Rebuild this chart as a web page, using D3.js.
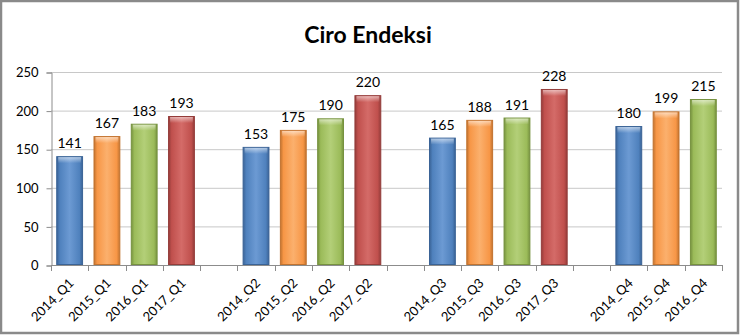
<!DOCTYPE html>
<html>
<head>
<meta charset="utf-8">
<script src="https://cdn.jsdelivr.net/npm/d3@7"></script>
<style>
  body { margin: 0; background: #fff; }
  svg { display: block; font-family: Lato, "Open Sans", sans-serif; }
</style>
</head>
<body>
<svg id="chart"></svg>
<script>
// chart data (empty label = gap between quarter groups)
var categories = ["2014_Q1", "2015_Q1", "2016_Q1", "2017_Q1", "",
                  "2014_Q2", "2015_Q2", "2016_Q2", "2017_Q2", "",
                  "2014_Q3", "2015_Q3", "2016_Q3", "2017_Q3", "",
                  "2014_Q4", "2015_Q4", "2016_Q4"];
var values = [141, 167, 183, 193, null,
              153, 175, 190, 220, null,
              165, 188, 191, 228, null,
              180, 199, 215];
var years = ["2014", "2015", "2016", "2017"];
var yTicks = [0, 50, 100, 150, 200, 250];

var width = 740, height = 335;
var margin = { top: 72, left: 51, bottom: 70, right: 18 };

var svg = d3.select("#chart")
            .attr("width", width)
            .attr("height", height);

// colours: base, dark edge, light centre
var palette = {
    "2014": ["#4f81bd", "#3a6396", "#6c9ad3"],
    "2015": ["#f79646", "#c2732f", "#fbb06d"],
    "2016": ["#9bbb59", "#76923f", "#b3cf78"],
    "2017": ["#c0504d", "#943c3a", "#d46b68"]
};

var defs = svg.append("defs");
years.forEach(function (yr) {
    var c = palette[yr];
    var g = defs.append("linearGradient")
                .attr("id", "grad" + yr)
                .attr("x1", 0).attr("x2", 1).attr("y1", 0).attr("y2", 0);
    g.append("stop").attr("offset", "0%").attr("stop-color", c[1]);
    g.append("stop").attr("offset", "12%").attr("stop-color", c[0]);
    g.append("stop").attr("offset", "50%").attr("stop-color", c[2]);
    g.append("stop").attr("offset", "88%").attr("stop-color", c[0]);
    g.append("stop").attr("offset", "100%").attr("stop-color", c[1]);

    var t = defs.append("linearGradient")
                .attr("id", "top" + yr)
                .attr("x1", 0).attr("x2", 0).attr("y1", 0).attr("y2", 1);
    t.append("stop").attr("offset", "0%").attr("stop-color", "#fff").attr("stop-opacity", 0.55);
    t.append("stop").attr("offset", "100%").attr("stop-color", "#fff").attr("stop-opacity", 0);
});

// outer frame
svg.append("rect")
   .attr("x", 1).attr("y", 1)
   .attr("width", width - 3).attr("height", height - 3)
   .attr("fill", "#fff")
   .attr("stroke", "#8a8a8a")
   .attr("stroke-width", 2.5);

svg.append("text")
   .attr("x", 368).attr("y", 43)
   .attr("text-anchor", "middle")
   .attr("font-size", 23)
   .attr("font-weight", "bold")
   .attr("fill", "#000")
   .text("Ciro Endeksi");

var idx = d3.range(categories.length);

var slot = d3.scaleBand()
             .domain(idx)
             .range([margin.left, width - margin.right]);

var x = d3.scaleBand()
          .domain(idx)
          .range([margin.left, width - margin.right])
          .paddingInner(0.28)
          .paddingOuter(0.14);

var y = d3.scaleLinear()
          .domain([0, 250])
          .range([height - margin.bottom, margin.top]);

// gridlines
svg.append("g")
   .selectAll("line")
   .data(yTicks.slice(1))
   .enter()
   .append("line")
   .attr("x1", margin.left).attr("x2", width - margin.right)
   .attr("y1", function (d) { return y(d) + 0.5; })
   .attr("y2", function (d) { return y(d) + 0.5; })
   .attr("stroke", "#c8c8c8");

// y axis
var yAxis = svg.append("g")
   .attr("transform", "translate(" + (margin.left + 0.5) + ",0.5)")
   .call(d3.axisLeft(y).tickValues(yTicks).tickSize(5).tickPadding(8));
yAxis.select(".domain").attr("stroke", "#8c8c8c");
yAxis.selectAll(".tick line").attr("stroke", "#8c8c8c");
yAxis.selectAll("text").attr("font-size", 13).attr("fill", "#000")
     .attr("font-family", "Lato, sans-serif");

// x axis: line and ticks at slot boundaries
var xg = svg.append("g");
xg.append("line")
  .attr("x1", margin.left).attr("x2", width - margin.right)
  .attr("y1", y(0) + 0.5).attr("y2", y(0) + 0.5)
  .attr("stroke", "#8c8c8c");
xg.selectAll(".xt")
  .data(d3.range(categories.length + 1))
  .enter()
  .append("line")
  .attr("x1", function (i) { return Math.round(margin.left + i * slot.step()) + 0.5; })
  .attr("x2", function (i) { return Math.round(margin.left + i * slot.step()) + 0.5; })
  .attr("y1", y(0)).attr("y2", y(0) + 6)
  .attr("stroke", "#8c8c8c");

xg.selectAll(".xl")
  .data(idx.filter(function (i) { return categories[i] !== ""; }))
  .enter()
  .append("text")
  .attr("transform", function (i) {
      return "translate(" + (slot(i) + slot.bandwidth() / 2 + 5) + "," + (y(0) + 19) + ") rotate(-45)";
  })
  .attr("text-anchor", "end")
  .attr("font-size", 13)
  .attr("fill", "#000")
  .text(function (i) { return categories[i]; });

// bars
var data = idx.filter(function (i) { return values[i] != null; });
var bars = svg.append("g").selectAll("g")
              .data(data)
              .enter()
              .append("g");

bars.append("rect")
    .attr("x", function (i) { return x(i) + 0.5; })
    .attr("y", function (i) { return y(values[i]) + 0.5; })
    .attr("width", x.bandwidth() - 1)
    .attr("height", function (i) { return y(0) - y(values[i]) - 1; })
    .attr("fill", function (i) { return "url(#grad" + categories[i].slice(0, 4) + ")"; })
    .attr("stroke", function (i) { return palette[categories[i].slice(0, 4)][1]; })
    .attr("stroke-width", 1);

bars.append("rect")
    .attr("x", function (i) { return x(i) + 2; })
    .attr("y", function (i) { return y(values[i]) + 1; })
    .attr("width", x.bandwidth() - 4)
    .attr("height", 6)
    .attr("fill", function (i) { return "url(#top" + categories[i].slice(0, 4) + ")"; });

bars.append("text")
    .attr("x", function (i) { return x(i) + x.bandwidth() / 2; })
    .attr("y", function (i) { return y(values[i]) - 8; })
    .attr("text-anchor", "middle")
    .attr("font-size", 14)
    .attr("fill", "#000")
    .text(function (i) { return values[i]; });
</script>
</body>
</html>
